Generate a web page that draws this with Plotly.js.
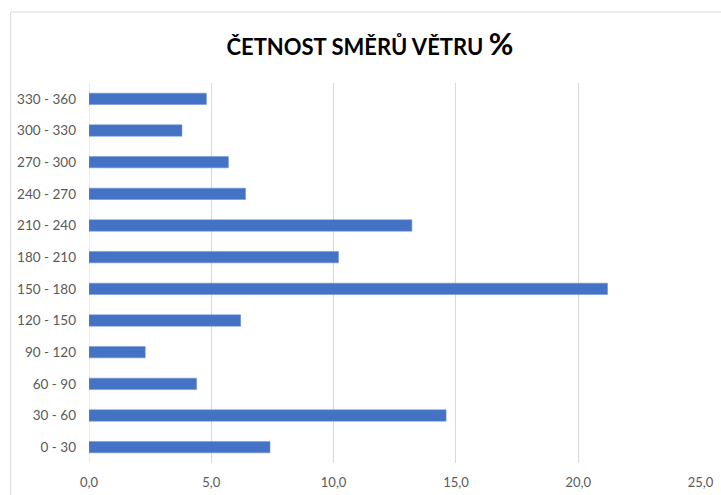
<!DOCTYPE html>
<html>
<head>
<meta charset="utf-8">
<script src="https://cdn.plot.ly/plotly-3.0.1.min.js"></script>
<style>html,body{margin:0;padding:0;background:#fff;}#chart{width:721px;height:495px;}</style>
</head>
<body>
<div id="chart"></div>
<script>
var categories = ["0 - 30","30 - 60","60 - 90","90 - 120","120 - 150","150 - 180","180 - 210","210 - 240","240 - 270","270 - 300","300 - 330","330 - 360"];
var values = [7.4, 14.6, 4.4, 2.3, 6.2, 21.2, 10.2, 13.2, 6.4, 5.7, 3.8, 4.8];
var tickVals = [0, 5, 10, 15, 20, 25];
var tickText = ["0,0", "5,0", "10,0", "15,0", "20,0", "25,0"];
var titleText = "ČETNOST SMĚRŮ VĚTRU <span style='font-size:30px'>%</span>";

var trace = {
  type: "bar",
  orientation: "h",
  x: values,
  y: categories,
  width: 0.36,
  marker: {color: "#4472C4", line: {color: "#6a92d8", width: 0.5}},
  hoverinfo: "x+y"
};

var layout = {
  width: 721, height: 495,
  margin: {l: 89, r: 20, t: 83, b: 32},
  paper_bgcolor: "#ffffff",
  plot_bgcolor: "#ffffff",
  showlegend: false,
  title: {
    text: titleText,
    font: {family: "Lato, 'Open Sans', sans-serif", size: 22, color: "#000000", weight: "bold"},
    x: 0.513, xanchor: "center",
    y: 0.905, yanchor: "middle"
  },
  xaxis: {
    range: [0, 25.02],
    tickvals: tickVals,
    ticktext: tickText,
    showgrid: true,
    gridcolor: "#d9d9d9",
    gridwidth: 1,
    zeroline: false,
    showline: false,
    ticks: "",
    tickfont: {family: "Lato, 'Open Sans', sans-serif", size: 13, color: "#595959"},
    ticklabelstandoff: 10,
    fixedrange: true
  },
  yaxis: {
    type: "category",
    categoryorder: "array",
    categoryarray: categories,
    showgrid: false,
    zeroline: false,
    showline: false,
    ticks: "",
    ticklabelstandoff: 12,
    tickfont: {family: "Lato, 'Open Sans', sans-serif", size: 13.5, color: "#595959"},
    fixedrange: true
  },
  shapes: [
    {type: "line", xref: "paper", yref: "paper", x0: -0.128, x1: 1.1, y0: 1.1868, y1: 1.1868, line: {color: "#d9d9d9", width: 1}},
    {type: "line", xref: "paper", yref: "paper", x0: -0.128, x1: -0.128, y0: 1.1868, y1: -0.2, line: {color: "#d9d9d9", width: 1}},
    {type: "line", xref: "x", yref: "paper", x0: 0, x1: 0, y0: 0, y1: 1, line: {color: "#d9d9d9", width: 1}, layer: "below"}
  ]
};

Plotly.newPlot("chart", [trace], layout, {displayModeBar: false, staticPlot: true});
</script>
</body>
</html>
